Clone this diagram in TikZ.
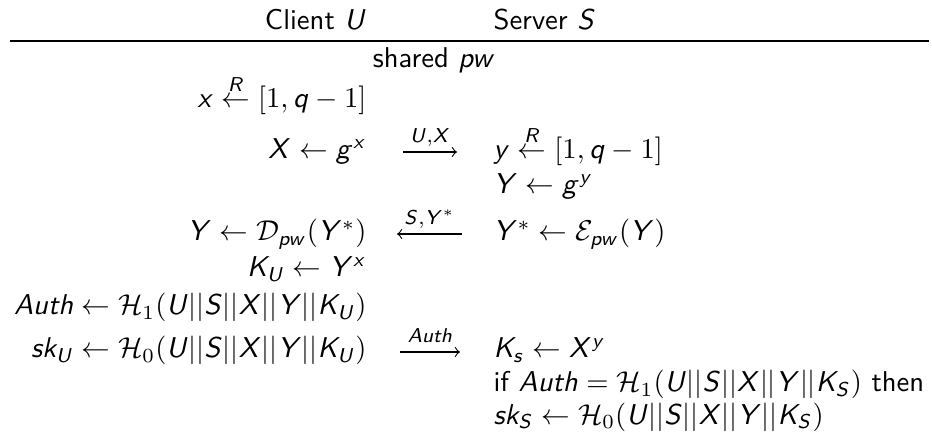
\documentclass[tikz,border=0pt]{standalone}
\usetikzlibrary{arrows,positioning}
\renewcommand{\familydefault}{\sfdefault}
% sans italic letters in math, digits stay roman
\DeclareSymbolFont{sfletters}{OT1}{cmss}{m}{sl}
\makeatletter
\newcount\sfl@c
\def\sfl@set#1#2{\sfl@c=#1\relax
  \loop\ifnum\sfl@c<#2\relax
    \mathcode\sfl@c=\numexpr"7000+\symsfletters*256+\sfl@c\relax
    \advance\sfl@c by 1
  \repeat}
\sfl@set{97}{123}
\sfl@set{65}{91}
\makeatother
\newcommand{\rnd}{\stackrel{R}{\leftarrow}}

\begin{document}
\begin{tikzpicture}[x=0.349pt, y=-0.349pt,
    client/.style={anchor=base east, inner sep=0pt},
    server/.style={anchor=base west, inner sep=0pt},
    msg/.style={->, >=to, line width=0.4pt},
    lbl/.style={midway, anchor=base, yshift=3.2pt, inner sep=0pt}]
    \useasboundingbox (0,0) rectangle (932,437);

    \node[client] (hc) at (367,30) {Client $U$};
    \node[server] (hs) at (493,30) {Server $S$};
    \draw[line width=0.4pt] (10,41) -- (929,41);
    \node[anchor=base, inner sep=0pt] (pw) at (434,68) {shared $pw$};

    % client side
    \node[client] (cx) at (367,108) {$x \rnd [1,q-1]$};
    \node[client] (cX) at (367,159) {$X \leftarrow g^x$};
    \node[client] (cY) at (367,241) {$Y \leftarrow \mathcal{D}_{pw}(Y^*)$};
    \node[client] (cK) at (367,277) {$K_U \leftarrow Y^x$};
    \node[client] (cA) at (367,315) {$Auth \leftarrow \mathcal{H}_1(U||S||X||Y||K_U)$};
    \node[client] (csk) at (367,358) {$sk_U \leftarrow \mathcal{H}_0(U||S||X||Y||K_U)$};

    % server side
    \node[server] (sy) at (493,159) {$y \rnd [1,q-1]$};
    \node[server] (sY) at (493,194) {$Y \leftarrow g^y$};
    \node[server] (sE) at (493,241) {$Y^* \leftarrow \mathcal{E}_{pw}(Y)$};
    \node[server] (sK) at (493,358) {$K_s \leftarrow X^y$};
    \node[server] (sif) at (493,392) {if $Auth = \mathcal{H}_1(U||S||X||Y||K_S)$ then};
    \node[server] (ssk) at (493,424) {$sk_S \leftarrow \mathcal{H}_0(U||S||X||Y||K_S)$};

    % messages
    \coordinate (m1a) at (403,152);
    \coordinate (m1b) at (457,152);
    \coordinate (m2a) at (462,234);
    \coordinate (m2b) at (397,234);
    \coordinate (m3a) at (400,352);
    \coordinate (m3b) at (460,352);
    \draw[msg] (m1a) -- (m1b) node[lbl] {$\scriptstyle U,X$};
    \draw[msg] (m2a) -- (m2b) node[lbl] {$\scriptstyle S,Y^*$};
    \draw[msg] (m3a) -- (m3b) node[lbl] {$\scriptstyle Auth$};
\end{tikzpicture}
\end{document}
